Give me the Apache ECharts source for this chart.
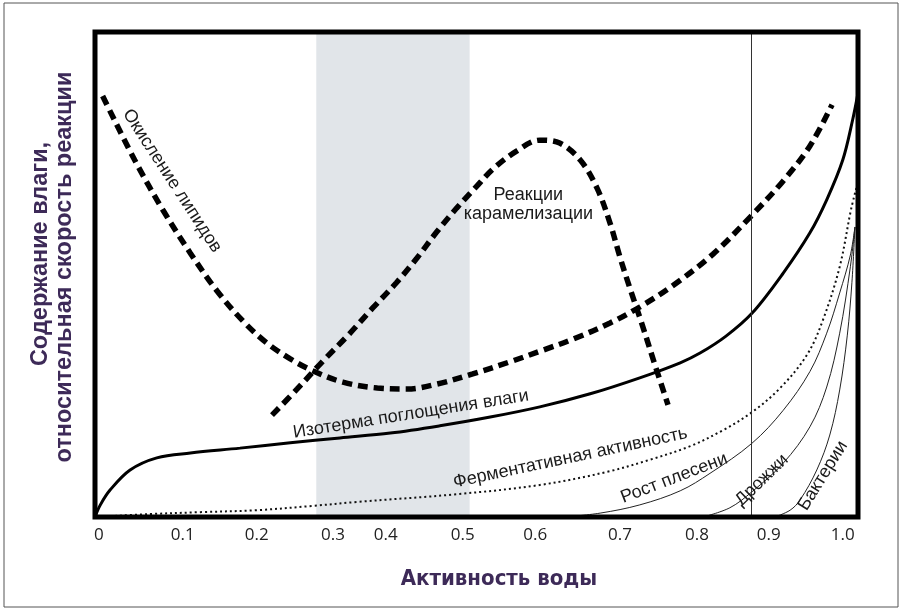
<!DOCTYPE html>
<html>
<head>
<meta charset="utf-8">
<script src="https://cdn.jsdelivr.net/npm/echarts@6/dist/echarts.min.js"></script>
<style>
  html, body { margin: 0; padding: 0; background: #fff; }
  #chart { width: 903px; height: 611px; }
</style>
</head>
<body>
<div id="chart"></div>
<script>
// x = position across the plot (0..1, the schematic axis is not linear), y = % of height
var tickPos  = [0.005, 0.115, 0.212, 0.312, 0.381, 0.482, 0.577, 0.688, 0.789, 0.883, 0.980];
var tickText = ['0', '0.1', '0.2', '0.3', '0.4', '0.5', '0.6', '0.7', '0.8', '0.9', '1.0'];

var lipid = [[0.010,86.8],[0.052,73.6],[0.089,63.3],[0.125,54.4],[0.160,46.6],[0.194,40.4],
  [0.225,35.9],[0.256,32.6],[0.286,30.1],[0.325,27.8],[0.370,26.6],[0.409,26.4],[0.448,27.4],
  [0.495,29.5],[0.544,32.0],[0.587,34.4],[0.627,36.7],[0.675,40.0],[0.714,43.3],[0.758,47.8],
  [0.810,54.2],[0.859,61.9],[0.902,69.3],[0.937,76.5],[0.966,85.0]];

var caramel = [[0.232,21.0],[0.265,26.4],[0.299,32.2],[0.333,37.7],[0.364,43.1],[0.395,48.3],
  [0.422,53.4],[0.448,58.8],[0.474,63.7],[0.498,67.8],[0.522,71.8],[0.553,75.5],[0.583,77.7],
  [0.609,77.1],[0.636,73.6],[0.658,67.8],[0.675,60.6],[0.688,53.6],[0.701,47.2],[0.716,40.2],
  [0.733,31.8],[0.751,23.1]];

var isotherm = [[0,0],[0.007,2.5],[0.020,5.6],[0.046,9.7],[0.081,12.2],[0.125,13.2],[0.190,14.2],
  [0.256,15.3],[0.321,16.3],[0.387,17.3],[0.452,18.8],[0.518,20.6],[0.583,22.7],[0.649,25.4],
  [0.714,28.7],[0.767,31.8],[0.793,33.8],[0.827,37.3],[0.861,42.0],[0.902,50.3],[0.937,58.6],
  [0.959,65.4],[0.980,73.6],[0.993,81.9],[1.0,87.4]];

var enzyme = [[0,0],[0.072,0.6],[0.138,1.0],[0.212,1.4],[0.286,2.3],[0.343,3.1],[0.474,4.7],
  [0.583,6.6],[0.671,9.3],[0.727,11.8],[0.780,14.6],[0.823,17.9],[0.861,21.6],[0.898,26.6],
  [0.933,33.4],[0.954,40.6],[0.976,51.6],[0.991,63.5],[0.999,68.5]];

var mold = [[0.616,0],[0.662,0.8],[0.714,2.5],[0.767,5.4],[0.806,9.0],[0.861,15.2],[0.902,22.0],
  [0.937,30.0],[0.959,37.9],[0.976,46.2],[0.990,54.0],[0.996,59.8]];

var yeast = [[0.797,0],[0.832,1.9],[0.861,5.2],[0.902,11.1],[0.937,18.6],[0.959,26.8],
  [0.976,37.9],[0.990,51.6],[0.996,59.8]];

var bacteria = [[0.891,0],[0.911,1.4],[0.924,3.5],[0.946,9.7],[0.963,16.9],[0.976,26.2],
  [0.986,37.5],[0.992,48.3],[0.996,59.8]];

var optimumBand = [0.290, 0.491];   // shaded zone
var markerX = 0.861;                // thin vertical line

// curve captions: text, x, y, angle (deg)
var notes = [
  ['Окисление липидов', 0.101, 69.3, -57],
  ['Реакции\nкарамелизации', 0.568, 64.5, 0],
  ['Изотерма поглощения влаги', 0.414, 21.2, 9],
  ['Ферментативная активность', 0.623, 12.2, 12],
  ['Рост плесени', 0.759, 8.0, 21],
  ['Дрожжи', 0.874, 7.6, 44],
  ['Бактерии', 0.954, 8.5, 58]
];

var purple = '#3d2a58';

function curve(name, data, style) {
  return {
    name: name, type: 'line', data: data, smooth: 0.35, symbol: 'none',
    lineStyle: style, z: 3, silent: true
  };
}

var myChart = echarts.init(document.getElementById('chart'));
myChart.setOption({
  animation: false,
  backgroundColor: '#fff',
  grid: {left: 95, right: 45, top: 32, bottom: 94},
  xAxis: {
    type: 'value', min: 0, max: 1,
    axisLine: {show: false}, axisTick: {show: false}, splitLine: {show: false},
    axisLabel: {
      customValues: tickPos,
      margin: 10,
      color: '#222', fontSize: 17, fontFamily: 'Open Sans',
      formatter: function (v) {
        var best = 0;
        for (var i = 1; i < tickPos.length; i++) {
          if (Math.abs(tickPos[i] - v) < Math.abs(tickPos[best] - v)) best = i;
        }
        return tickText[best];
      }
    }
  },
  yAxis: {type: 'value', min: 0, max: 100, show: false},
  series: [
    {
      type: 'line', data: [], z: 1, silent: true,
      markArea: {
        silent: true,
        itemStyle: {color: '#e1e5e9'},
        data: [[{xAxis: optimumBand[0]}, {xAxis: optimumBand[1]}]]
      },
      markLine: {
        silent: true, symbol: 'none', label: {show: false},
        lineStyle: {color: '#333', width: 1, type: 'solid'},
        data: [{xAxis: markerX}]
      }
    },
    curve('mold', mold, {color: '#222', width: 1}),
    curve('yeast', yeast, {color: '#222', width: 1}),
    curve('bacteria', bacteria, {color: '#222', width: 1}),
    curve('enzyme', enzyme, {color: '#111', width: 2, type: [2, 3]}),
    curve('isotherm', isotherm, {color: '#000', width: 3}),
    curve('lipid', lipid, {color: '#000', width: 5.5, type: [10, 6], cap: 'butt'}),
    curve('caramel', caramel, {color: '#000', width: 5.5, type: [10, 6], cap: 'butt'})
  ]
});

var p0 = myChart.convertToPixel({gridIndex: 0}, [0, 0]);
var p1 = myChart.convertToPixel({gridIndex: 0}, [1, 100]);

var graphics = [
  {
    type: 'rect', z: 100, silent: true,
    shape: {x: 4, y: 3, width: 894, height: 604},
    style: {fill: 'none', stroke: '#555', lineWidth: 1}
  },
  {
    type: 'rect', z: 100, silent: true,
    shape: {x: p0[0], y: p1[1], width: p1[0] - p0[0], height: p0[1] - p1[1]},
    style: {fill: 'none', stroke: '#000', lineWidth: 5}
  },
  {
    type: 'text', x: 41, y: 254, rotation: Math.PI / 2, z: 100,
    style: {text: 'Содержание влаги,', fill: purple, fontSize: 23.5, fontWeight: 'bold',
      fontFamily: 'Liberation Sans', align: 'center', verticalAlign: 'middle'}
  },
  {
    type: 'text', x: 65, y: 267, rotation: Math.PI / 2, z: 100,
    style: {text: 'относительная скорость реакции', fill: purple, fontSize: 23.5, fontWeight: 'bold',
      fontFamily: 'Liberation Sans', align: 'center', verticalAlign: 'middle'}
  },
  {
    type: 'text', x: 499, y: 579, z: 100,
    style: {text: 'Активность воды', fill: purple, fontSize: 22, fontWeight: 'bold',
      fontFamily: 'DejaVu Sans Condensed', align: 'center', verticalAlign: 'middle'}
  }
];

notes.forEach(function (n) {
  var p = myChart.convertToPixel({gridIndex: 0}, [n[1], n[2]]);
  graphics.push({
    type: 'text', x: p[0], y: p[1], rotation: n[3] * Math.PI / 180, z: 50,
    style: {text: n[0], fill: '#1a1a1a', fontSize: 18, fontFamily: 'Liberation Sans',
      align: 'center', verticalAlign: 'middle', lineHeight: 19}
  });
});

myChart.setOption({graphic: graphics});
</script>
</body>
</html>
